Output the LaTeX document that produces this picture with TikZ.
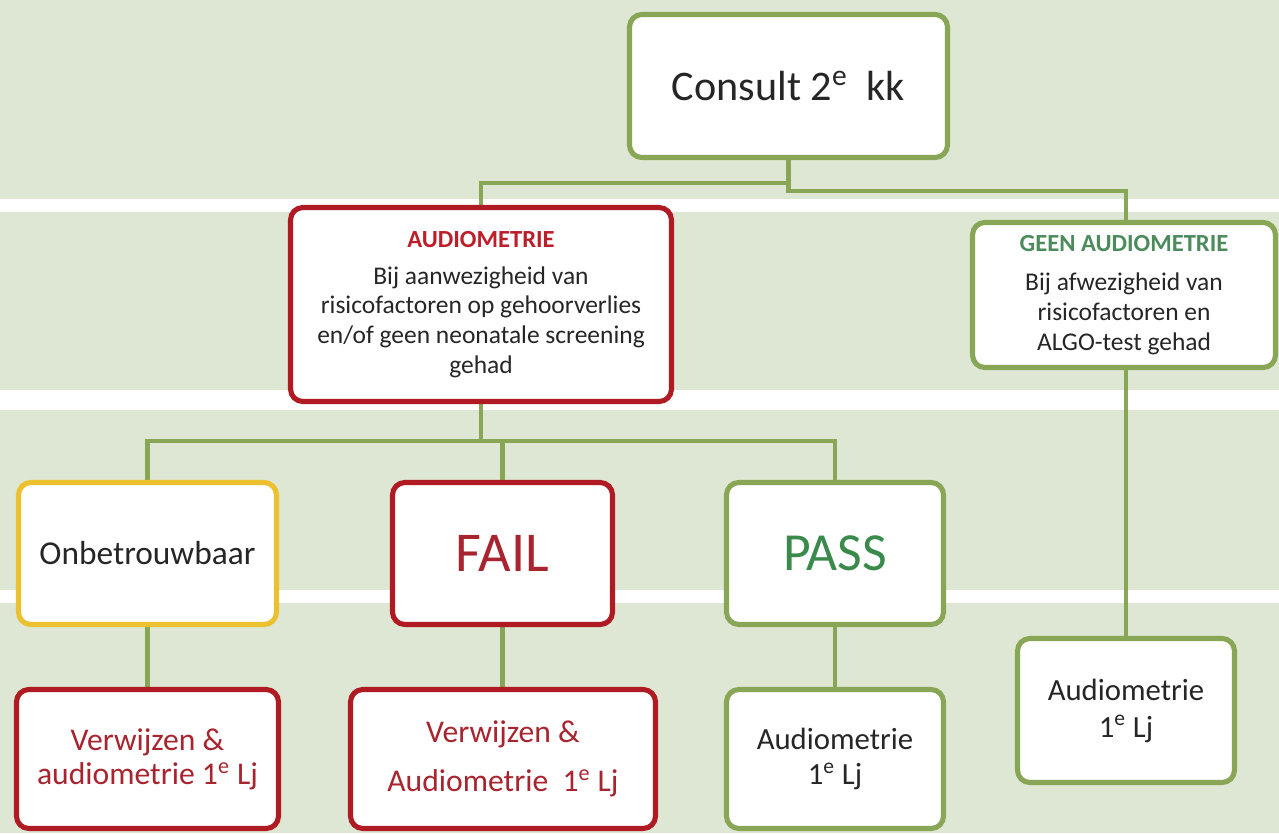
\documentclass[tikz,border=0pt]{standalone}
\usepackage{fontspec}
\setmainfont{Carlito}
\usetikzlibrary{backgrounds}
\definecolor{bandgreen}{RGB}{222,231,211}
\definecolor{linegreen}{RGB}{137,165,86}
\definecolor{boxred}{RGB}{176,26,34}
\definecolor{boxyellow}{RGB}{236,193,48}
\definecolor{txtred}{RGB}{168,36,46}
\definecolor{titlered}{RGB}{188,30,42}
\definecolor{txtgreen}{RGB}{58,138,76}
\definecolor{titlegreen}{RGB}{76,140,92}
\definecolor{txtdark}{RGB}{38,38,38}
\begin{document}
\begin{tikzpicture}[x=0.02cm, y=-0.02cm,
    box/.style={draw, fill=white, rounded corners=7pt, line width=2.9pt,
      align=center, inner sep=0pt, text=txtdark},
    okbox/.style={box, draw=linegreen},
    redbox/.style={box, draw=boxred},
    warnbox/.style={box, draw=boxyellow},
    conn/.style={draw=linegreen, line width=2.6pt}]
  \useasboundingbox (0,0) rectangle (1279,833);
  % top level
  \node[okbox, minimum width=6.36cm, minimum height=2.86cm,
    font=\fontsize{24}{28}\selectfont] (consult) at (788.5,86)
    {Consult 2\textsuperscript{e}\ \ kk};
  \node[redbox, minimum width=7.62cm, minimum height=3.88cm,
    font=\fontsize{14.5}{17}\selectfont] (audio) at (481,304.5)
    {{\color{titlered}\bfseries\fontsize{14}{17}\selectfont AUDIOMETRIE}\\[4pt]
     Bij aanwezigheid van\\ risicofactoren op gehoorverlies\\
     en/of geen neonatale screening\\ gehad};
  \node[okbox, minimum width=6.06cm, minimum height=2.9cm,
    font=\fontsize{14.5}{17}\selectfont] (geen) at (1124,295)
    {{\color{titlegreen}\bfseries\fontsize{14}{17}\selectfont GEEN AUDIOMETRIE}\\[5pt]
     Bij afwezigheid van\\ risicofactoren en\\ ALGO-test gehad};
  % results
  \node[warnbox, minimum width=5.16cm, minimum height=2.84cm,
    font=\fontsize{19}{22}\selectfont] (onbe) at (147.5,553.5) {Onbetrouwbaar};
  \node[redbox, minimum width=4.4cm, minimum height=2.84cm, text=txtred,
    font=\fontsize{32}{36}\selectfont] (fail) at (502.5,553.5) {FAIL};
  \node[okbox, minimum width=4.34cm, minimum height=2.84cm, text=txtgreen,
    font=\fontsize{30.5}{34}\selectfont] (pass) at (835,553.5) {PASS};
  % follow-up
  \node[redbox, minimum width=5.24cm, minimum height=2.78cm, text=txtred,
    font=\fontsize{18}{19.5}\selectfont] (verw1) at (147.5,759)
    {Verwijzen \&\\ audiometrie 1\textsuperscript{e} Lj};
  \node[redbox, minimum width=6.1cm, minimum height=2.78cm, text=txtred,
    font=\fontsize{18}{28}\selectfont] (verw2) at (503,759)
    {Verwijzen \&\\ Audiometrie\ \ 1\textsuperscript{e} Lj};
  \node[okbox, minimum width=4.34cm, minimum height=2.78cm,
    font=\fontsize{17.5}{19.5}\selectfont] (paud) at (835,759)
    {Audiometrie\\ 1\textsuperscript{e} Lj};
  \node[okbox, minimum width=4.34cm, minimum height=2.88cm,
    font=\fontsize{17.5}{21}\selectfont] (raud) at (1126,710.5)
    {Audiometrie\\ 1\textsuperscript{e} Lj};
  \begin{scope}[on background layer]
    % bands
    \fill[bandgreen] (0,0) rectangle (1279,833);
    \fill[white] (0,199) rectangle (1279,212);
    \fill[white] (0,390) rectangle (1279,410);
    \fill[white] (0,590) rectangle (1279,603);
    % connectors
    \draw[conn] (consult.south) -- ++(0,23) -| (audio.north);
    \draw[conn] (consult.south) -- ++(0,31) -| (raud.north |- geen.north);
    \draw[conn] (audio.south) -- ++(0,37) -| (onbe.north);
    \draw[conn] (audio.south) -- ++(0,37) -| (fail.north);
    \draw[conn] (audio.south) -- ++(0,37) -| (pass.north);
    \draw[conn] (onbe) -- (verw1);
    \draw[conn] (fail.south) -- (fail.south |- verw2.north);
    \draw[conn] (pass) -- (paud);
    \draw[conn] (geen.south -| raud.north) -- (raud.north);
  \end{scope}
\end{tikzpicture}
\end{document}
